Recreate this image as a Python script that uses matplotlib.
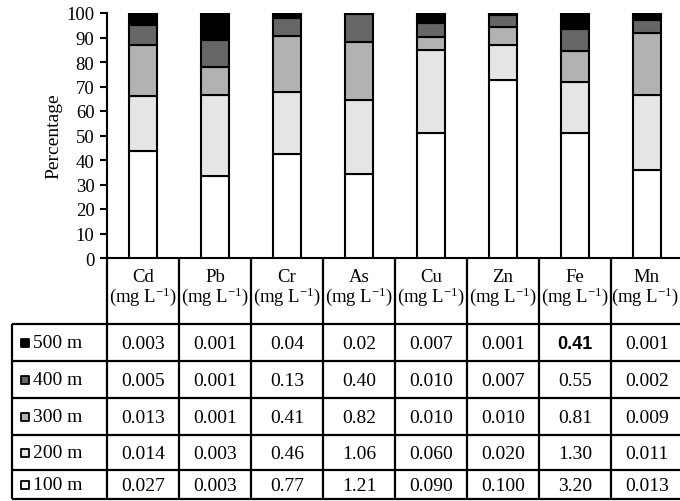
import numpy as np
import matplotlib
matplotlib.use("Agg")
import matplotlib.pyplot as plt

plt.rcParams['font.family'] = ['Liberation Serif', 'DejaVu Serif']
plt.rcParams['mathtext.fontset'] = 'custom'
plt.rcParams['mathtext.rm'] = 'Liberation Serif'
plt.rcParams['mathtext.it'] = 'Liberation Serif:italic'

# concentrations (mg/L) per distance, as printed in the table
metals = ["Cd", "Pb", "Cr", "As", "Cu", "Zn", "Fe", "Mn"]
depths = ["500 m", "400 m", "300 m", "200 m", "100 m"]
conc_500 = ["0.003", "0.001", "0.04", "0.02", "0.007", "0.001", "0.41", "0.001"]
conc_400 = ["0.005", "0.001", "0.13", "0.40", "0.010", "0.007", "0.55", "0.002"]
conc_300 = ["0.013", "0.001", "0.41", "0.82", "0.010", "0.010", "0.81", "0.009"]
conc_200 = ["0.014", "0.003", "0.46", "1.06", "0.060", "0.020", "1.30", "0.011"]
conc_100 = ["0.027", "0.003", "0.77", "1.21", "0.090", "0.100", "3.20", "0.013"]
rows = [conc_500, conc_400, conc_300, conc_200, conc_100]
fills = ["#000000", "#666666", "#b2b2b2", "#e5e5e5", "#ffffff"]

vals = np.array(rows, dtype=float)
pct = vals / vals.sum(axis=0) * 100

W, H = 680, 502
fig = plt.figure(figsize=(W / 100, H / 100), dpi=100)

# stacked bars
ax = fig.add_axes([107 / W, (H - 259) / H, 576 / W, 245 / H])
x = np.arange(len(metals)) + 0.5
bottom = np.zeros(len(metals))
for i in range(len(depths) - 1, -1, -1):
    ax.bar(x, pct[i], 0.4, bottom=bottom, color=fills[i],
           edgecolor="black", linewidth=1.5, zorder=3)
    bottom += pct[i]
ax.set_xlim(0, 8)
ax.set_ylim(0, 100)
ax.set_yticks(range(0, 101, 10))
ax.set_xticks([])
for s in ["top", "right"]:
    ax.spines[s].set_visible(False)
ax.spines["left"].set_linewidth(1.5)
ax.spines["bottom"].set_linewidth(1.5)
ax.tick_params(axis="y", length=5, width=1.5, pad=4, labelsize=13.5)
ax.set_ylabel("Percentage", fontsize=14)
ax.yaxis.set_label_coords(-0.078, 0.5)

# table below, in pixel units
tab = fig.add_axes([0, 0, 1, 1], zorder=-1)
tab.set_xlim(0, W)
tab.set_ylim(H, 0)
tab.axis("off")
col_edges = 107 + 72 * np.arange(len(metals) + 1)
row_edges = [259, 325, 362, 399, 436, 471, 500]
lw = 1.6
tab.vlines(col_edges, 259, 500, color="black", lw=lw)
tab.vlines(12, 325, 500, color="black", lw=lw)
tab.hlines(row_edges[1:], 12, col_edges[-1], color="black", lw=lw)

for j, m in enumerate(metals):
    cx = (col_edges[j] + col_edges[j + 1]) / 2
    tab.text(cx, 278, m, ha="center", va="center", fontsize=13.5)
    if j == len(metals) - 1:
        tab.text(W - 1, 297, r"(mg L$^{-1}$)", ha="right", va="center", fontsize=13.5)
    else:
        tab.text(cx + 0.5, 297, r"(mg L$^{-1}$)", ha="center", va="center", fontsize=13.5)

for i, d in enumerate(depths):
    cy = (row_edges[i + 1] + row_edges[i + 2]) / 2
    tab.scatter([24.5], [cy], marker="s", s=40, color=fills[i],
                edgecolor="black", linewidth=1.3)
    tab.text(33, cy, d, ha="left", va="center", fontsize=14)
    for j in range(len(metals)):
        cx = (col_edges[j] + col_edges[j + 1]) / 2
        if i == 0 and metals[j] == "Fe":
            tab.text(cx, cy + 1, rows[i][j], ha="center", va="center",
                     fontsize=13, fontweight="bold", family="Liberation Sans")
        else:
            tab.text(cx, cy + 1, rows[i][j], ha="center", va="center", fontsize=14)

fig.savefig("out.png", dpi=100)
